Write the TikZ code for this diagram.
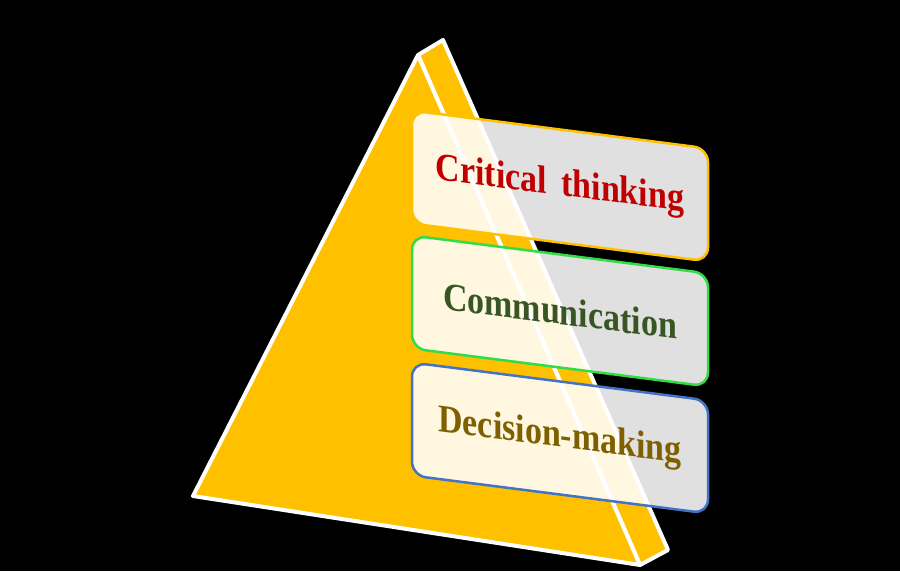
\documentclass[tikz,border=0pt]{standalone}
\usepackage{fontspec}
\setmainfont{Liberation Serif}
\definecolor{pyrgold}{RGB}{255,192,0}
\definecolor{critred}{RGB}{192,0,0}
\definecolor{commgreen}{RGB}{55,86,35}
\definecolor{decolive}{RGB}{127,96,0}
\definecolor{brightgreen}{RGB}{50,220,70}
\definecolor{steelblue}{RGB}{68,114,196}
\newcommand{\skilltext}[1]{\scalebox{0.97}[1.12]{#1}}
\tikzset{
  skill/.style={rectangle, rounded corners=14pt, minimum width=296pt,
    minimum height=113pt, fill=white, fill opacity=0.88, text opacity=1,
    line width=2.5pt, font=\bfseries\fontsize{35}{40}\selectfont,
    yslant=-0.128, transform shape},
  edge/.style={draw=white, line width=4pt, line join=round}
}
\begin{document}
\begin{tikzpicture}[x=1pt, y=-1pt]
\fill[black] (0,0) rectangle (900,571);
\useasboundingbox (0,0) rectangle (900,571);
% pyramid
\coordinate (apex) at (418,55);
\coordinate (back) at (443,40);
\coordinate (left) at (193,496);
\coordinate (front) at (640,565);
\coordinate (right) at (668,550);
\filldraw[edge, fill=pyrgold] (apex) -- (back) -- (right) -- (front) -- cycle;
\filldraw[edge, fill=pyrgold] (apex) -- (left) -- (front) -- cycle;
% skills
\node[skill, draw=pyrgold, text=critred] (critical) at (560,186) {\skilltext{Critical\hspace{0.42em}thinking}};
\node[skill, draw=brightgreen, text=commgreen] (communication) at (560,311) {\skilltext{Communication}};
\node[skill, draw=steelblue, text=decolive] (decision) at (560,438) {\skilltext{Decision-making}};
\end{tikzpicture}
\end{document}
